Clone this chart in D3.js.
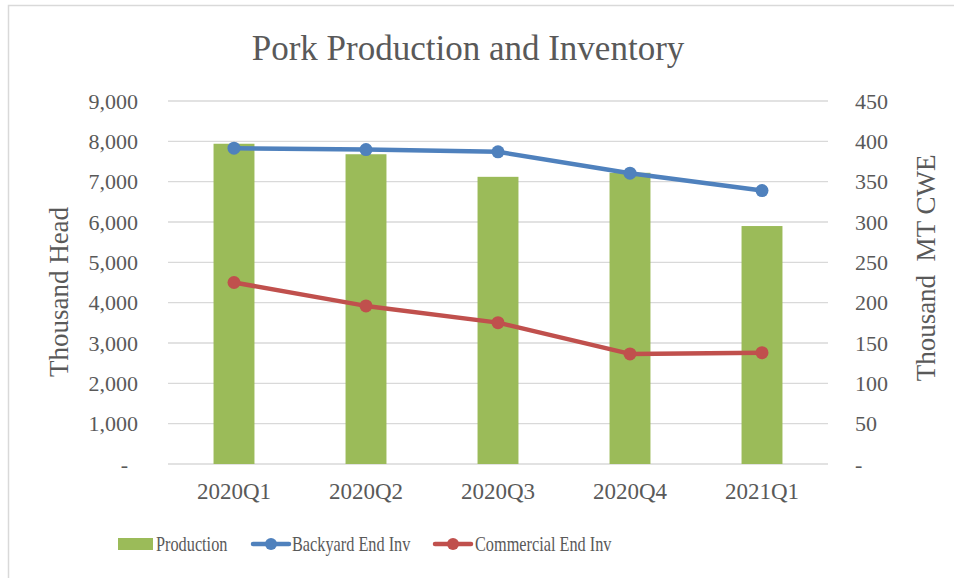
<!DOCTYPE html>
<html>
<head>
<meta charset="utf-8">
<script src="https://cdn.jsdelivr.net/npm/d3@7"></script>
<style>
  body { margin: 0; background: #fff; }
  text { font-family: "Liberation Serif", "Times New Roman", serif; fill: #595959; }
</style>
</head>
<body>
<svg width="954" height="578"></svg>
<script>
const quarters = ["2020Q1", "2020Q2", "2020Q3", "2020Q4", "2021Q1"];
const production = [397, 384, 356, 361, 295];          // thousand MT CWE (right axis)
const backyardInv = [7830, 7795, 7740, 7210, 6780];      // thousand head (left axis)
const commercialInv = [4500, 3920, 3505, 2730, 2760];    // thousand head (left axis)
const leftTicks = [0, 1000, 2000, 3000, 4000, 5000, 6000, 7000, 8000, 9000];
const rightTicks = [0, 50, 100, 150, 200, 250, 300, 350, 400, 450];
const seriesNames = ["Production", "Backyard End Inv", "Commercial End Inv"];
const colors = ["#9BBB59", "#4F81BD", "#C0504D"];

const svg = d3.select("svg"),
  width = +svg.attr("width"),
  height = +svg.attr("height");

const plot = { left: 168, right: 828, top: 101, bottom: 464 };

// chart border (only top and left show inside the window)
svg.append("rect").attr("x", 8.5).attr("y", 5.5).attr("width", 980).attr("height", 600)
  .style("fill", "none").style("stroke", "#D9D9D9").style("stroke-width", 1.5)

const x = d3.scaleBand().domain(quarters).range([plot.left, plot.right]).paddingInner(0.69).paddingOuter(0.345)
const step = (plot.right - plot.left) / quarters.length
const xc = d => plot.left + step * (quarters.indexOf(d) + 0.5)
const yL = d3.scaleLinear().domain([0, 9000]).range([plot.bottom, plot.top])
const yR = d3.scaleLinear().domain([0, 450]).range([plot.bottom, plot.top])

// gridlines
svg.append("g").selectAll("line")
  .data(leftTicks)
  .join("line")
  .attr("x1", plot.left).attr("x2", plot.right)
  .attr("y1", d => yL(d)).attr("y2", d => yL(d))
  .style("stroke", "#D9D9D9").style("stroke-width", 1.3)

// left tick labels
const fmt = d3.format(",")
svg.append("g").selectAll("text")
  .data(leftTicks)
  .join("text")
  .attr("x", d => d === 0 ? 128 : 138)
  .attr("y", d => yL(d))
  .attr("dy", "0.35em")
  .attr("text-anchor", "end")
  .style("font-size", "22px")
  .text(d => d === 0 ? "-" : fmt(d))

// right tick labels
svg.append("g").selectAll("text")
  .data(rightTicks)
  .join("text")
  .attr("x", 855)
  .attr("y", d => yR(d))
  .attr("dy", "0.35em")
  .style("font-size", "22px")
  .text(d => d === 0 ? "-" : d)

// category labels
svg.append("g").selectAll("text")
  .data(quarters)
  .join("text")
  .attr("x", d => xc(d))
  .attr("y", 499)
  .attr("text-anchor", "middle")
  .style("font-size", "23px")
  .text(d => d)

// bars
svg.append("g").selectAll("rect")
  .data(production)
  .join("rect")
  .attr("x", (d, i) => x(quarters[i]))
  .attr("width", x.bandwidth())
  .attr("y", d => yR(d))
  .attr("height", d => yR(0) - yR(d))
  .style("fill", colors[0])

// lines
const line = d3.line().x((d, i) => xc(quarters[i])).y(d => yL(d))
;[backyardInv, commercialInv].forEach(function (vals, k) {
  svg.append("path")
    .datum(vals)
    .attr("d", line)
    .style("fill", "none")
    .style("stroke", colors[k + 1])
    .style("stroke-width", 4.5)
    .style("stroke-linejoin", "round")
  svg.append("g").selectAll("circle")
    .data(vals)
    .join("circle")
    .attr("cx", (d, i) => xc(quarters[i]))
    .attr("cy", d => yL(d))
    .attr("r", 6.5)
    .style("fill", colors[k + 1])
})

// title
svg.append("text").attr("x", 468).attr("y", 60).attr("text-anchor", "middle")
  .style("font-size", "35px").text("Pork Production and Inventory")

// axis titles
svg.append("text").attr("transform", "translate(68,292) rotate(-90)").attr("text-anchor", "middle")
  .style("font-size", "27px").text("Thousand Head")
svg.append("text").attr("transform", "translate(935,268) rotate(-90)").attr("text-anchor", "middle")
  .style("font-size", "27px").style("white-space", "pre").attr("xml:space", "preserve").text("Thousand  MT CWE")

// legend
const lg = svg.append("g")
lg.append("rect").attr("x", 118).attr("y", 538).attr("width", 35).attr("height", 12).style("fill", colors[0])
const lineItems = [{ x: 253, k: 1 }, { x: 435, k: 2 }]
lineItems.forEach(function (it) {
  lg.append("line").attr("x1", it.x).attr("x2", it.x + 36).attr("y1", 544).attr("y2", 544)
    .style("stroke", colors[it.k]).style("stroke-width", 4.5).style("stroke-linecap", "round")
  lg.append("circle").attr("cx", it.x + 18).attr("cy", 544).attr("r", 6).style("fill", colors[it.k])
})
const legendTextX = [156, 292, 475]
seriesNames.forEach(function (name, i) {
  lg.append("text")
    .attr("transform", "translate(" + legendTextX[i] + ",551) scale(0.74,1)")
    .style("font-size", "22px")
    .text(name)
})
</script>
</body>
</html>
